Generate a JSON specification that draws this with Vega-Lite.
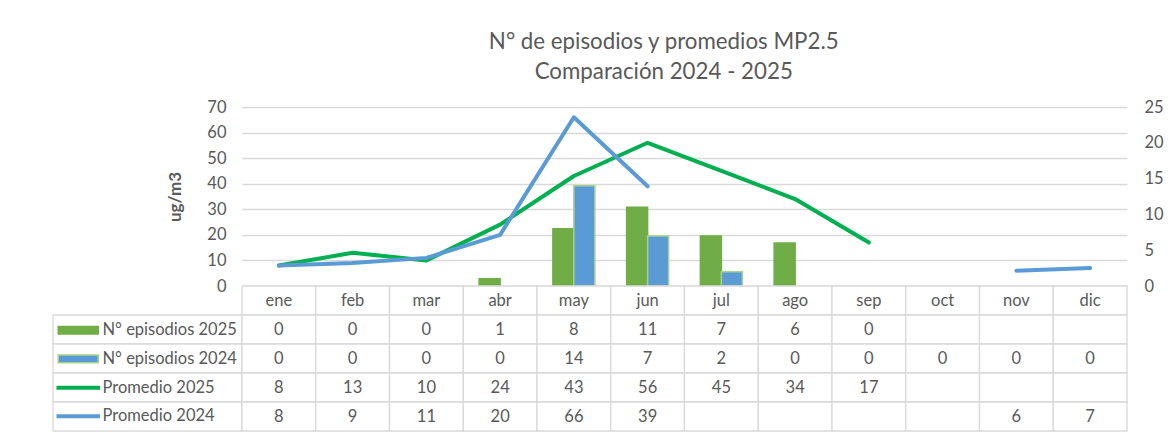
{
  "$schema": "https://vega.github.io/schema/vega-lite/v6.json",
  "padding": {"left": 52, "top": 30, "right": 5, "bottom": 5},
  "title": {
    "text": ["N° de episodios y promedios MP2.5", "Comparación 2024 - 2025"],
    "font": "Lato", "fontSize": 22.3, "fontWeight": "normal", "color": "#595959",
    "lineHeight": 30, "anchor": "middle", "dx": 56, "offset": 16
  },
  "config": {
    "view": {"stroke": null},
    "font": "Lato",
    "axis": {"labelFont": "Lato", "labelFontSize": 16.5, "labelColor": "#595959", "titleColor": "#595959", "titleFont": "Lato"}
  },
  "datasets": {
    "main": [
      {"mes": "ene", "serie": "N° episodios 2025", "valor": 0},
      {"mes": "feb", "serie": "N° episodios 2025", "valor": 0},
      {"mes": "mar", "serie": "N° episodios 2025", "valor": 0},
      {"mes": "abr", "serie": "N° episodios 2025", "valor": 1},
      {"mes": "may", "serie": "N° episodios 2025", "valor": 8},
      {"mes": "jun", "serie": "N° episodios 2025", "valor": 11},
      {"mes": "jul", "serie": "N° episodios 2025", "valor": 7},
      {"mes": "ago", "serie": "N° episodios 2025", "valor": 6},
      {"mes": "sep", "serie": "N° episodios 2025", "valor": 0},
      {"mes": "oct", "serie": "N° episodios 2025", "valor": null},
      {"mes": "nov", "serie": "N° episodios 2025", "valor": null},
      {"mes": "dic", "serie": "N° episodios 2025", "valor": null},
      {"mes": "ene", "serie": "N° episodios 2024", "valor": 0},
      {"mes": "feb", "serie": "N° episodios 2024", "valor": 0},
      {"mes": "mar", "serie": "N° episodios 2024", "valor": 0},
      {"mes": "abr", "serie": "N° episodios 2024", "valor": 0},
      {"mes": "may", "serie": "N° episodios 2024", "valor": 14},
      {"mes": "jun", "serie": "N° episodios 2024", "valor": 7},
      {"mes": "jul", "serie": "N° episodios 2024", "valor": 2},
      {"mes": "ago", "serie": "N° episodios 2024", "valor": 0},
      {"mes": "sep", "serie": "N° episodios 2024", "valor": 0},
      {"mes": "oct", "serie": "N° episodios 2024", "valor": 0},
      {"mes": "nov", "serie": "N° episodios 2024", "valor": 0},
      {"mes": "dic", "serie": "N° episodios 2024", "valor": 0},
      {"mes": "ene", "serie": "Promedio 2025", "valor": 8},
      {"mes": "feb", "serie": "Promedio 2025", "valor": 13},
      {"mes": "mar", "serie": "Promedio 2025", "valor": 10},
      {"mes": "abr", "serie": "Promedio 2025", "valor": 24},
      {"mes": "may", "serie": "Promedio 2025", "valor": 43},
      {"mes": "jun", "serie": "Promedio 2025", "valor": 56},
      {"mes": "jul", "serie": "Promedio 2025", "valor": 45},
      {"mes": "ago", "serie": "Promedio 2025", "valor": 34},
      {"mes": "sep", "serie": "Promedio 2025", "valor": 17},
      {"mes": "oct", "serie": "Promedio 2025", "valor": null},
      {"mes": "nov", "serie": "Promedio 2025", "valor": null},
      {"mes": "dic", "serie": "Promedio 2025", "valor": null},
      {"mes": "ene", "serie": "Promedio 2024", "valor": 8},
      {"mes": "feb", "serie": "Promedio 2024", "valor": 9},
      {"mes": "mar", "serie": "Promedio 2024", "valor": 11},
      {"mes": "abr", "serie": "Promedio 2024", "valor": 20},
      {"mes": "may", "serie": "Promedio 2024", "valor": 66},
      {"mes": "jun", "serie": "Promedio 2024", "valor": 39},
      {"mes": "jul", "serie": "Promedio 2024", "valor": null},
      {"mes": "ago", "serie": "Promedio 2024", "valor": null},
      {"mes": "sep", "serie": "Promedio 2024", "valor": null},
      {"mes": "oct", "serie": "Promedio 2024", "valor": null},
      {"mes": "nov", "serie": "Promedio 2024", "valor": 6},
      {"mes": "dic", "serie": "Promedio 2024", "valor": 7}
    ]
  },
  "columns": 2,
  "spacing": 0,
  "bounds": "flush",
  "resolve": {"scale": {"color": "independent", "stroke": "independent", "shape": "independent"}},
  "concat": [
    {
      "width": 189, "height": 179,
      "data": {"values": [{}]},
      "mark": {"type": "text"},
      "encoding": {"text": {"value": ""}}
    },
    {
      "width": 885, "height": 179,
      "data": {"name": "main"},
      "encoding": {
        "x": {"field": "mes", "type": "nominal",
              "sort": ["ene","feb","mar","abr","may","jun","jul","ago","sep","oct","nov","dic"],
              "scale": {"paddingInner": 0, "paddingOuter": 0}, "axis": null}
      },
      "layer": [
        {
          "transform": [
            {"filter": {"field": "serie", "oneOf": ["N° episodios 2025", "N° episodios 2024"]}},
            {"filter": "datum.valor > 0"}
          ],
          "mark": {"type": "bar", "strokeWidth": 1.5},
          "encoding": {
            "xOffset": {"field": "serie", "type": "nominal",
                        "sort": ["N° episodios 2025", "N° episodios 2024"],
                        "scale": {"paddingInner": 0, "paddingOuter": 0.756}},
            "y": {"field": "valor", "type": "quantitative",
                  "scale": {"domain": [0, 25], "nice": false},
                  "axis": {"orient": "right", "values": [0, 5, 10, 15, 20, 25], "grid": false,
                           "domain": false, "ticks": false, "labelPadding": 17, "title": null}},
            "color": {"field": "serie", "type": "nominal",
                      "scale": {"domain": ["N° episodios 2025", "N° episodios 2024"], "range": ["#70AD47", "#5B9BD5"]},
                      "legend": null},
            "stroke": {"field": "serie", "type": "nominal",
                       "scale": {"domain": ["N° episodios 2025", "N° episodios 2024"], "range": ["#70AD47", "#A9D18E"]},
                       "legend": null}
          }
        },
        {
          "encoding": {
            "y": {"field": "valor", "type": "quantitative",
                  "scale": {"domain": [0, 70], "nice": false},
                  "axis": {"orient": "left", "values": [0, 10, 20, 30, 40, 50, 60, 70], "grid": true,
                           "gridColor": "#D9D9D9", "gridWidth": 1.3, "domain": false, "ticks": false,
                           "labelPadding": 16, "title": "ug/m3", "titleFontSize": 17,
                           "titleFontWeight": "bold", "titlePadding": 22}}
          },
          "layer": [
            {
              "transform": [{"filter": "datum.serie === 'Promedio 2025'"}],
              "mark": {"type": "line", "color": "#00B050", "strokeWidth": 4, "strokeJoin": "round",
                       "strokeCap": "round", "invalid": "break-paths-filter-domains"}
            },
            {
              "transform": [{"filter": "datum.serie === 'Promedio 2024'"}],
              "mark": {"type": "line", "color": "#5B9BD5", "strokeWidth": 4, "strokeJoin": "round",
                       "strokeCap": "round", "invalid": "break-paths-filter-domains"}
            }
          ]
        }
      ],
      "resolve": {"scale": {"y": "independent"}}
    },
    {
      "width": 189, "height": 145,
      "data": {"name": "main"},
      "transform": [{"aggregate": [{"op": "count", "as": "n"}], "groupby": ["serie"]}],
      "encoding": {
        "y": {"field": "serie", "type": "nominal",
              "scale": {"domain": ["cab", "N° episodios 2025", "N° episodios 2024", "Promedio 2025", "Promedio 2024"],
                        "paddingInner": 0, "paddingOuter": 0},
              "axis": null}
      },
      "layer": [
        {"mark": {"type": "rect", "fill": "white", "stroke": "#D9D9D9", "strokeWidth": 1.3}},
        {
          "mark": {"type": "point", "filled": true, "strokeWidth": 1.5, "size": 0, "opacity": 1, "fillOpacity": 1, "strokeOpacity": 1},
          "encoding": {
            "color": {"field": "serie", "type": "nominal",
                      "scale": {"domain": ["N° episodios 2025", "N° episodios 2024", "Promedio 2025", "Promedio 2024"],
                                "range": ["#70AD47", "#5B9BD5", "#00B050", "#5B9BD5"]},
                      "legend": {
                        "orient": "none", "legendX": 17, "legendY": 36, "title": null, "padding": 0,
                        "symbolSize": 100, "labelFont": "Lato", "labelFontSize": 16.5, "labelColor": "#595959",
                        "labelOffset": 16, "rowPadding": 11.7, "symbolOpacity": 1, "symbolStrokeWidth": 1.5
                      }},
            "stroke": {"field": "serie", "type": "nominal",
                       "scale": {"domain": ["N° episodios 2025", "N° episodios 2024", "Promedio 2025", "Promedio 2024"],
                                 "range": ["#70AD47", "#A9D18E", "#00B050", "#5B9BD5"]}},
            "shape": {"field": "serie", "type": "nominal",
                      "scale": {"domain": ["N° episodios 2025", "N° episodios 2024", "Promedio 2025", "Promedio 2024"],
                                "range": ["M-4,-0.77H4V0.77H-4Z", "M-4,-0.77H4V0.77H-4Z", "M-4.2,-0.25H4.2V0.25H-4.2Z", "M-4.2,-0.25H4.2V0.25H-4.2Z"]}}
          }
        }
      ]
    },
    {
      "width": 885, "height": 145,
      "data": {"name": "main"},
      "encoding": {
        "x": {"field": "mes", "type": "nominal",
              "sort": ["ene","feb","mar","abr","may","jun","jul","ago","sep","oct","nov","dic"],
              "scale": {"paddingInner": 0, "paddingOuter": 0}, "axis": null}
      },
      "layer": [
        {
          "transform": [{"aggregate": [{"op": "count", "as": "n"}], "groupby": ["mes"]}],
          "mark": {"type": "rect", "fill": "white", "stroke": "#D9D9D9", "strokeWidth": 1.3},
          "encoding": {
            "y": {"datum": "cab", "type": "nominal",
                  "scale": {"domain": ["cab", "N° episodios 2025", "N° episodios 2024", "Promedio 2025", "Promedio 2024"],
                            "paddingInner": 0, "paddingOuter": 0}, "axis": null}
          }
        },
        {
          "mark": {"type": "rect", "fill": "white", "stroke": "#D9D9D9", "strokeWidth": 1.3},
          "encoding": {
            "y": {"field": "serie", "type": "nominal",
                  "scale": {"domain": ["cab", "N° episodios 2025", "N° episodios 2024", "Promedio 2025", "Promedio 2024"],
                            "paddingInner": 0, "paddingOuter": 0}, "axis": null}
          }
        },
        {
          "transform": [{"aggregate": [{"op": "count", "as": "n"}], "groupby": ["mes"]}],
          "mark": {"type": "text", "font": "Lato", "fontSize": 16.5, "color": "#595959"},
          "encoding": {
            "y": {"datum": "cab", "type": "nominal"},
            "text": {"field": "mes", "type": "nominal"}
          }
        },
        {
          "transform": [{"filter": {"field": "valor", "valid": true}}],
          "mark": {"type": "text", "font": "Lato", "fontSize": 16.5, "color": "#595959"},
          "encoding": {
            "y": {"field": "serie", "type": "nominal"},
            "text": {"field": "valor", "type": "quantitative"}
          }
        }
      ]
    }
  ]
}
